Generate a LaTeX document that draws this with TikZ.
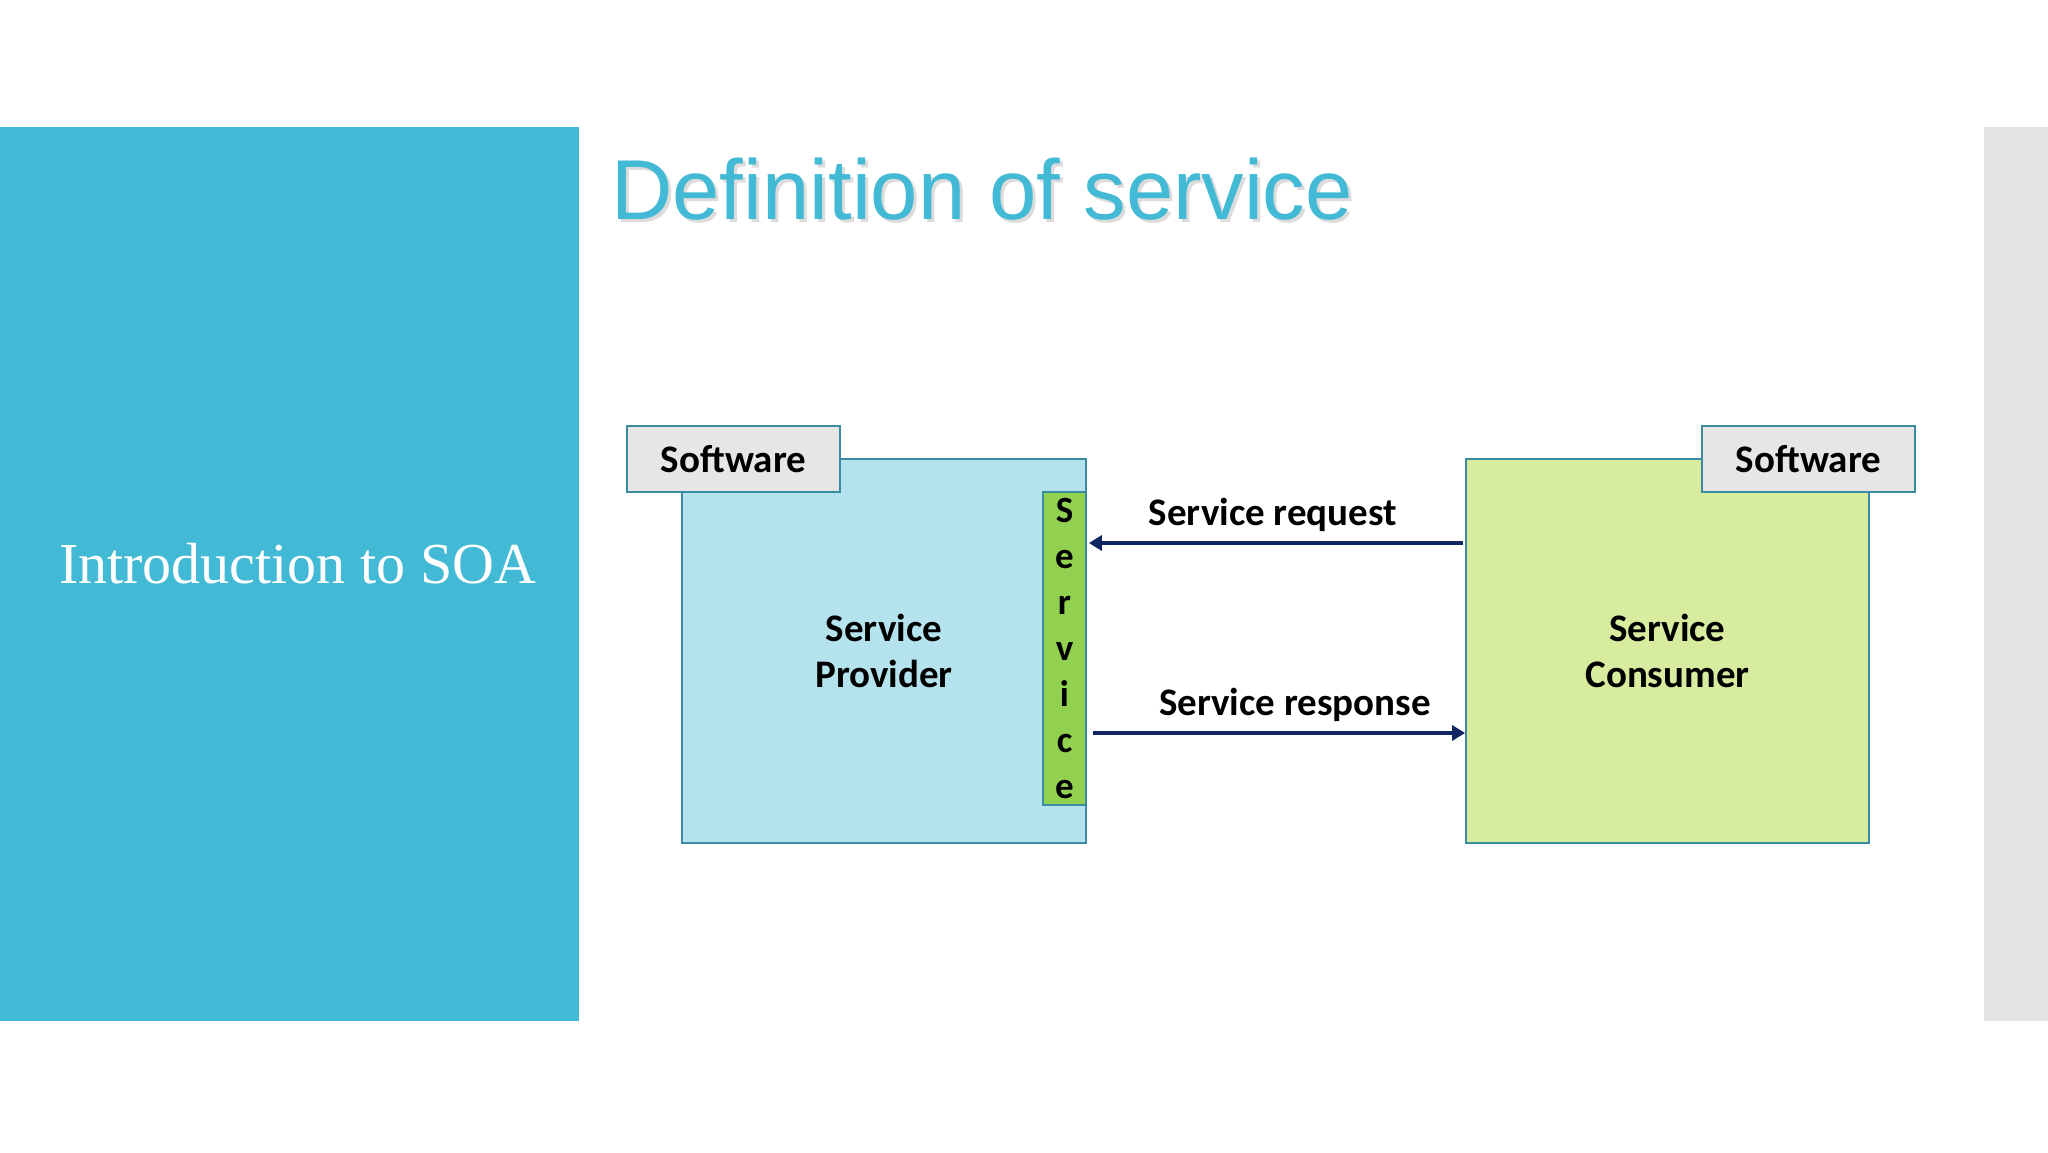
\documentclass[tikz,border=0pt]{standalone}
\usepackage{fontspec}
\setmainfont{Carlito}
\newfontfamily\titlefont{Liberation Sans}
\newfontfamily\introfont{Liberation Serif}
\usetikzlibrary{arrows.meta,calc}
\definecolor{soablue}{RGB}{66,185,213}
\definecolor{greybar}{RGB}{228,228,230}
\definecolor{edgeteal}{RGB}{58,140,160}
\definecolor{provfill}{RGB}{180,227,238}
\definecolor{consfill}{RGB}{216,236,160}
\definecolor{stripgreen}{RGB}{146,208,80}
\definecolor{tabgrey}{RGB}{230,230,230}
\definecolor{navy}{RGB}{16,38,98}
\begin{document}
\begin{tikzpicture}[x=1pt,y=-1pt,
  box/.style={rectangle, draw=edgeteal, line width=1.8pt, inner sep=0pt, align=center,
    font=\fontsize{39}{46}\selectfont\bfseries},
  tabbox/.style={box, fill=tabgrey, minimum width=213pt, minimum height=66pt,
    font=\fontsize{39}{46}\selectfont\bfseries},
  arr/.style={draw=navy, line width=4.5pt, -{Triangle[length=13pt,width=15pt]}},
  lbl/.style={font=\fontsize{39}{46}\selectfont\bfseries, inner sep=0pt, anchor=base}]
\useasboundingbox (0,0) rectangle (2048,1152);
\fill[white] (0,0) rectangle (2048,1152);
\fill[soablue] (0,127) rectangle (579,1021);
\fill[greybar] (1984,127) rectangle (2048,1021);
% title
\node[anchor=base west, inner sep=0pt, text=black!30, opacity=0.45,
  font=\titlefont\fontsize{85}{90}\selectfont] (titleshadow) at (614,222) {Definition of service};
\node[anchor=base west, inner sep=0pt, text=soablue,
  font=\titlefont\fontsize{85}{90}\selectfont] (title) at (611,219) {Definition of service};
% side panel text
\node[anchor=base west, inner sep=0pt, text=white,
  font=\introfont\fontsize{58}{60}\selectfont] (intro) at (59,583) {Introduction to SOA};
% provider
\node[box, fill=provfill, minimum width=404pt, minimum height=384pt] (prov) at (884,651) {Service\\Provider};
\node[tabbox] (provtab) at (733.5,459) {Software};
\node[box, fill=stripgreen, minimum width=43pt, minimum height=313pt] (strip) at (1064.5,648.5) {};
\node[align=center, inner sep=0pt, font=\fontsize{37}{46}\selectfont\bfseries] (striptext) at (strip.center) {S\\e\\r\\v\\i\\c\\e};
% consumer
\node[box, fill=consfill, minimum width=403pt, minimum height=384pt] (cons) at (1667.5,651) {Service\\Consumer};
\node[tabbox] (constab) at (1808.5,459) {Software};
% connectors
\coordinate (ry) at (0,543);
\coordinate (sy) at (0,733);
\draw[arr, shorten <=2pt, shorten >=2pt] (cons.west |- ry) -- (strip.east |- ry);
\draw[arr, shorten <=6pt] (strip.east |- sy) -- (cons.west |- sy);
\node[lbl] (reql) at (1273,525) {Service request};
\node[lbl] (resl) at (1295,715) {Service response};
\end{tikzpicture}
\end{document}
